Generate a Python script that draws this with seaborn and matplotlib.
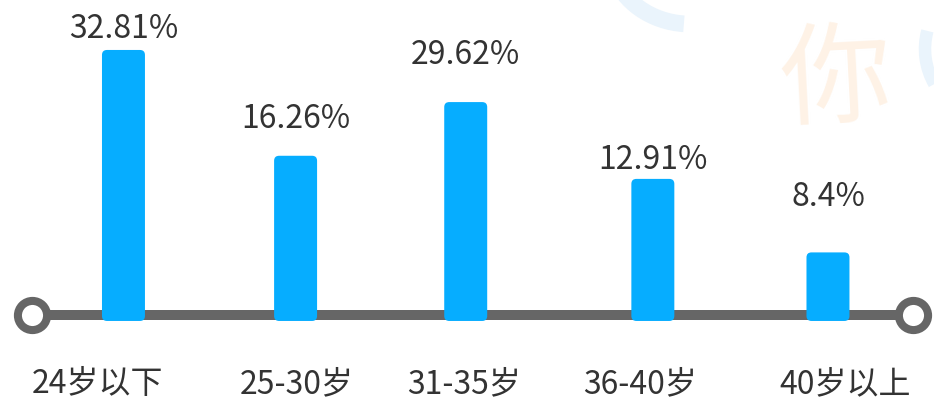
import matplotlib
matplotlib.use("Agg")
import matplotlib.pyplot as plt
import seaborn as sns
import pandas as pd
from matplotlib.patches import FancyBboxPatch, Arc

# ---- data ----
categories = ["24岁以下", "25-30岁", "31-35岁", "36-40岁", "40岁以上"]
values = [32.81, 16.26, 29.62, 12.91, 8.4]          # shown percentages
bar_heights = [32.81, 20.0, 26.5, 17.2, 8.3]         # drawn bar heights
value_labels = ["32.81%", "16.26%", "29.62%", "12.91%", "8.4%"]

# ---- layout (pixel tweaks, not data) ----
bar_shift_px = [0, -4, -10, 1, 0]
cat_label_shift_px = [-26, -3, -12, -12, 17]
value_label_y_px = [29, 119, 55, 160, 197]

sns.set_theme(style="white")
plt.rcParams["font.family"] = ["Noto Sans CJK SC", "DejaVu Sans"]

df = pd.DataFrame({"cat": categories, "h": bar_heights})

fig = plt.figure(figsize=(9.34, 4.02), dpi=100)

# background decorations (faint watermark)
bg = fig.add_axes([0, 0, 1, 1], zorder=-1)
bg.set_xlim(0, 934)
bg.set_ylim(402, 0)
bg.axis("off")
bg.add_patch(Arc((690, -45), 160, 140, theta1=95, theta2=165,
                 color="#EAF4FC", lw=12))
bg.add_patch(Arc((995, 50), 140, 140, theta1=150, theta2=195,
                 color="#EAF4FC", lw=9))
bg.text(836, 82, "你", fontsize=80, color="#FEF2E6",
        rotation=3, ha="center", va="center")

ax = fig.add_axes([0, 0, 1, 1])
ax.patch.set_alpha(0)

BAR_COLOR = "#06ADFF"
LINE_COLOR = "#666666"
TEXT_COLOR = "#333333"

sns.barplot(data=df, x="cat", y="h", color=BAR_COLOR, width=0.244,
            saturation=1, ax=ax, zorder=3)

ax.set_xlim(-0.701, 4.602)
ax.set_ylim(-9.69, 38.98)
ax.axis("off")

px_x = 1 / 176.1
px_y = 1 / 8.26

# rounded bars
for i, p in enumerate(list(ax.patches)):
    x, y, w, h = p.get_x(), p.get_y(), p.get_width(), p.get_height()
    p.remove()
    fb = FancyBboxPatch((x + bar_shift_px[i] * px_x, y), w, h,
                        boxstyle=f"round,pad=0,rounding_size={5 * px_x}",
                        mutation_aspect=px_y / px_x,
                        facecolor=BAR_COLOR, edgecolor="none", zorder=3)
    ax.add_patch(fb)

# baseline with end circles
line_y = 6 * px_y
x_left, x_right = -0.52, 4.483
ax.plot([x_left, x_right], [line_y, line_y], color=LINE_COLOR, lw=7.2,
        solid_capstyle="butt", zorder=2)
ax.plot([x_left, x_right], [line_y, line_y], linestyle="none", marker="o",
        markersize=21, markerfacecolor="white", markeredgecolor=LINE_COLOR,
        markeredgewidth=5.8, zorder=4)

# value labels
for i, lab in enumerate(value_labels):
    ax.text(i + bar_shift_px[i] * px_x, (322 - value_label_y_px[i]) * px_y, lab,
            ha="center", va="center", fontsize=23, color=TEXT_COLOR, zorder=5)

# category labels
for i, c in enumerate(categories):
    ax.text(i + cat_label_shift_px[i] * px_x, -62 * px_y, c, ha="center",
            va="center", fontsize=23, color=TEXT_COLOR, zorder=5)

fig.savefig("out.png", dpi=100, facecolor="white")
